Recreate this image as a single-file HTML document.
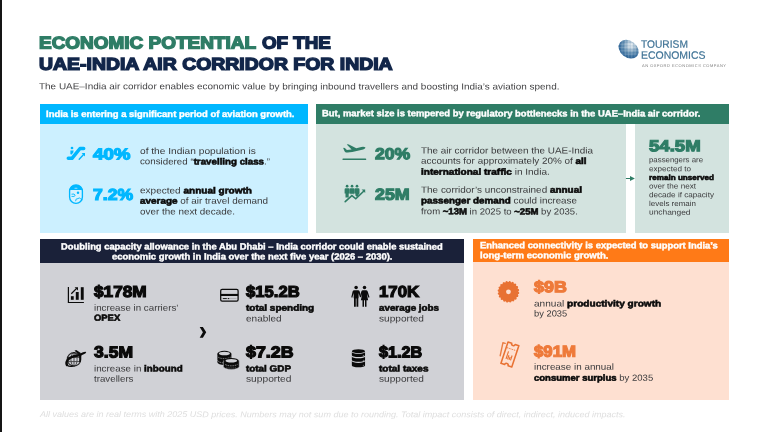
<!DOCTYPE html><html><head><meta charset="utf-8"><title>Economic potential of the UAE-India air corridor</title><style>

html,body{margin:0;padding:0}
body{width:768px;height:432px;overflow:hidden;background:#fff;position:relative;font-family:"Liberation Sans", sans-serif}
.r{position:absolute}
.t{position:absolute;white-space:nowrap;line-height:1;transform-origin:0 0;font-family:"Liberation Sans", sans-serif;text-rendering:geometricPrecision}
.t b{font-weight:700;color:#0a0a0a;-webkit-text-stroke:0.55px #0a0a0a}
svg{position:absolute;overflow:visible}
#w{position:absolute;left:0;top:0;width:768px;height:432px;background:#fff;filter:blur(0.6px)}

</style></head><body><div id="w">
<div class="r" style="left:0px;top:0px;width:1.70px;height:432.00px;background:#151515"></div>
<div class="r" style="left:40.3px;top:103.5px;width:267.30px;height:20.10px;background:#00b7ff"></div>
<div class="r" style="left:40.3px;top:123.6px;width:267.30px;height:109.40px;background:#ccf0ff"></div>
<div class="r" style="left:316px;top:103.5px;width:413.20px;height:20.10px;background:#2f7d66"></div>
<div class="r" style="left:316px;top:123.6px;width:310.00px;height:109.40px;background:#d3e3df"></div>
<div class="r" style="left:634.8px;top:123.6px;width:94.40px;height:109.40px;background:#d3e3df"></div>
<div class="r" style="left:40.4px;top:239.0px;width:423.40px;height:24.00px;background:#1a2139"></div>
<div class="r" style="left:40.4px;top:263.0px;width:423.40px;height:137.00px;background:#d0d1d6"></div>
<div class="r" style="left:473.2px;top:239.0px;width:255.80px;height:22.70px;background:#ff7a17"></div>
<div class="r" style="left:473.2px;top:261.7px;width:255.80px;height:138.30px;background:#fee0d1"></div>
<svg width="768" height="432" viewBox="0 0 768 432" style="left:0;top:0">
<defs>
<radialGradient id="gl" gradientUnits="userSpaceOnUse" cx="-0.6" cy="-4.6" r="15" fx="-0.6" fy="-4.6">
<stop offset="0" stop-color="#eef3f6"/><stop offset="0.22" stop-color="#c3d4e0"/><stop offset="0.5" stop-color="#6d97b7"/><stop offset="0.8" stop-color="#33699a"/><stop offset="1" stop-color="#2a6094"/>
</radialGradient>
<clipPath id="glc"><ellipse cx="0" cy="0" rx="10.9" ry="8.3" transform="rotate(38)"/></clipPath>
</defs>

<!-- logo globe -->
<g transform="translate(628.6,49.2)">
<ellipse cx="0" cy="0" rx="10.9" ry="8.3" transform="rotate(38)" fill="url(#gl)"/>
<g clip-path="url(#glc)" fill="none">
<g stroke="#2a6094" stroke-width="0.5" opacity="0.35">
<path d="M-12,-6.2Q0,-7.4 12,-6.2M-12,-3.1Q0,-3.9 12,-3.1M-12,0H12M-12,3.1Q0,3.9 12,3.1M-12,6.2Q0,7.4 12,6.2"/>
<path d="M-7.8,-10Q-9.2,0 -7.8,10M-4.7,-10Q-5.6,0 -4.7,10M-1.6,-10Q-1.9,0 -1.6,10M1.6,-10Q1.9,0 1.6,10M4.7,-10Q5.6,0 4.7,10M7.8,-10Q9.2,0 7.8,10"/>
</g>
<g stroke="#dfe9f0" stroke-width="0.35" opacity="0.5">
<path d="M-12,-4.7Q0,-5.7 12,-4.7M-12,-1.55Q0,-1.9 12,-1.55M-12,1.55Q0,1.9 12,1.55M-12,4.7Q0,5.7 12,4.7"/>
<path d="M-6.2,-10Q-7.4,0 -6.2,10M-3.1,-10Q-3.7,0 -3.1,10M0,-10V10M3.1,-10Q3.7,0 3.1,10M6.2,-10Q7.4,0 6.2,10"/>
</g>
</g>
</g>

<!-- 1 escalator (blue) -->
<g fill="none" stroke="#00b7ff" stroke-linecap="round" stroke-linejoin="round">
<path d="M68.3,158.3H72L80,148.5H83.7" stroke-width="3.5"/>
<path d="M79.2,159.2L84.3,153.7" stroke-width="1.4"/>
</g>
<g fill="#00b7ff">
<path d="M81.6,153.1H85V156.6Z"/>
<circle cx="72" cy="148" r="1.35"/>
<path d="M70.4,150.4H73.6L73.2,152.8L71.3,154.8L70.4,154Z"/>
</g>

<!-- 2 plane window (blue) -->
<g fill="none" stroke="#00b7ff">
<rect x="69.6" y="184.8" width="12.8" height="18.5" rx="6.3" ry="6.3" stroke-width="1.35" fill="#d6f2fe"/>
<path d="M71.5,194.2Q74.8,193.2 75.2,195.5Q74.5,197 71.5,196.4" stroke-width="0.9"/>
<path d="M75.6,201.2Q75.4,198.3 78,198.6Q79.3,197.2 80.6,198.7Q82.2,198.8 81.8,200.4" stroke-width="0.9"/>
</g>
<g fill="#00b7ff">
<path d="M69.7,189.6V191.1Q69.7,184.9 75.95,184.9Q82.2,184.9 82.2,191.1V189.6Z"/>
<path d="M69.7,189.9H82.2V191.1Q82.2,184.9 75.95,184.9Q69.7,184.9 69.7,191.1Z"/>
<circle cx="78" cy="192.8" r="1.25"/>
</g>
<rect x="74.4" y="187.8" width="3.1" height="0.9" rx="0.4" fill="#9ddcfb"/>

<!-- 3 plane take-off (green) -->
<g fill="#2f7d66">
<path d="M343.2,147.9Q344.3,147.5 345.1,148.2L346.9,150.1L351.6,149.6L346.8,144.6Q347.6,143.9 348.9,144.4L356.3,148.2L361.3,146.9Q364.3,146.3 365.5,147.6Q365.6,148.8 363.2,149.4L352.3,152.1Q348,152.9 345.9,152.4Q344.7,152 344.2,150.6Z"/>
<rect x="342.5" y="158.55" width="23.7" height="1.35" rx="0.5"/>
</g>

<!-- 4 people + growth arrow (green) -->
<g fill="#2f7d66">
<circle cx="347.1" cy="186.2" r="1.35"/><circle cx="352.05" cy="186.2" r="1.35"/><circle cx="357" cy="186.2" r="1.35"/>
<path d="M345.6,188.2H348.6Q349.6,188.2 349.6,189.4V193.6H348.7V197.6H345.5V193.6H344.6V189.4Q344.6,188.2 345.6,188.2Z"/>
<path d="M350.55,188.2H353.55Q354.55,188.2 354.55,189.4V193.6H353.6V194.6L352,193.4L350.5,194.6V193.6H349.55V189.4Q349.55,188.2 350.55,188.2Z"/>
<path d="M355.5,188.2H358.5Q359.5,188.2 359.5,189.4V193.4L358.6,194.4V195.6L357,197L355.4,195.6V193.6H354.5V189.4Q354.5,188.2 355.5,188.2Z"/>
<path d="M361.6,189.5H365.2V193.1Z"/>
</g>
<path d="M345.2,201.6L351.9,195.6L355.8,198.8L363.4,191.5" fill="none" stroke="#2f7d66" stroke-width="1.6" stroke-linecap="round" stroke-linejoin="miter"/>

<!-- small arrow between green boxes -->
<g fill="#2f7d66">
<rect x="625.9" y="178" width="5" height="1"/>
<path d="M630,176.1L634.9,178.5L630,180.9Z"/>
</g>

<!-- 5 bar chart (black) -->
<g fill="#0b0b0b">
<path d="M67.8,287H69V301.9H83.9V303.1H67.8Z"/>
<rect x="70.9" y="296.2" width="2.8" height="3.6"/>
<rect x="75.8" y="292" width="2.9" height="7.8"/>
<rect x="80.8" y="287.2" width="2.9" height="12.6"/>
<path d="M74.6,287.2H78V290.6Z"/>
</g>
<path d="M71.3,293.7L76.6,288.4" stroke="#0b0b0b" stroke-width="1.25" fill="none"/>

<!-- 6 globe + plane (black) -->
<g fill="none" stroke="#0b0b0b">
<circle cx="74" cy="359.4" r="6.7" stroke-width="1.25" opacity="0.85"/>
<g stroke-width="0.95" opacity="0.7">
<ellipse cx="74" cy="359.4" rx="3.1" ry="6.7"/>
<path d="M67.6,357.4H80.4M67.6,361.6H80.4M74,352.7V366.1"/>
</g>
<path d="M77.3,355.5Q70.2,356.6 67.5,360.2Q65.7,362.9 67,365" stroke-width="2.4" stroke-linecap="round"/>
<path d="M67,365.2Q69.4,367 72.8,366.2" stroke-width="1.3" stroke-linecap="round"/>
</g>
<g fill="#0b0b0b">
<path d="M76.8,354.9L83,352.2Q85.7,351.3 86.2,352.1Q86.3,353.3 83.8,354.3L77.6,357Z"/>
<path d="M74.5,350.7L76.2,350L81.2,353.3L79,354.5Z"/>
<path d="M79.2,354.7L81.6,354.1L80.8,361.6L79.2,361.9Z"/>
</g>

<!-- chevron -->
<path d="M199.7,326.9H202.9L206.2,332.3L202.9,337.8H199.7L202.9,332.3Z" fill="#0b0b0b"/>

<!-- 7 card (black) -->
<g>
<rect x="220.7" y="289.3" width="17.4" height="11.8" rx="1.4" fill="none" stroke="#0b0b0b" stroke-width="1.25"/>
<rect x="220.7" y="293.9" width="17.4" height="2.1" fill="#0b0b0b"/>
<rect x="222.8" y="298.15" width="4" height="0.9" fill="#0b0b0b"/>
<rect x="227.7" y="298.1" width="1.6" height="1" fill="#0b0b0b"/>
<rect x="230" y="298.35" width="6.5" height="0.5" fill="#0b0b0b" opacity="0.35"/>
</g>

<!-- 8 coins (black) -->
<g>
<path d="M217.4,353.7V362.3A7,2.7 0 0 0 231.4,362.3V353.7Z" fill="#0b0b0b"/>
<ellipse cx="224.4" cy="353.7" rx="7" ry="2.9" fill="#0b0b0b"/>
<ellipse cx="224.4" cy="353.6" rx="5.5" ry="1.75" fill="#d0d1d6"/>
<path d="M218.2,357.2A7,2.7 0 0 0 230.6,357.2" stroke="#d0d1d6" stroke-width="0.75" stroke-dasharray="0.9 0.8" fill="none" opacity="1"/>
<path d="M217.6,360.3A7,2.7 0 0 0 224,362.9" stroke="#d0d1d6" stroke-width="0.75" stroke-dasharray="0.9 0.8" fill="none" opacity="1"/>
<path d="M223.4,360.8V366.4A7.1,2.7 0 0 0 239.2,366.4V360.8Z" fill="#0b0b0b" stroke="#d0d1d6" stroke-width="0.5"/>
<ellipse cx="231.3" cy="360.8" rx="7.4" ry="2.9" fill="#0b0b0b"/>
<ellipse cx="231.3" cy="360.7" rx="5.8" ry="1.7" fill="#d0d1d6"/>
<path d="M225,364.3A7,2.7 0 0 0 237.6,364.3" stroke="#d0d1d6" stroke-width="0.75" stroke-dasharray="0.9 0.8" fill="none" opacity="1"/>
<path d="M226.3,367.2A7,2.7 0 0 0 236.3,367.2" stroke="#d0d1d6" stroke-width="0.5" stroke-dasharray="0.9 0.8" fill="none" opacity="0.7"/>
</g>

<!-- 9 man + woman (black) -->
<g fill="#0b0b0b">
<circle cx="356.1" cy="287.6" r="1.75"/>
<path d="M354.4,290.2H357.9Q359.3,290.2 359.7,291.6L361,296.8L360,297.3L358.6,293V298.2H358.3V306.7H356.5V298.6H355.8V306.7H354V298.2H353.7V293L352.3,297.7L351.3,297.2L352.6,291.6Q353,290.2 354.4,290.2Z"/>
<circle cx="364.5" cy="287.6" r="1.75"/>
<path d="M363,290.2H366Q367.2,290.2 367.7,291.6L369.5,297.2L368.5,297.7L366.8,293.6L368.1,300.2H366.5V306.7H365V300.2H364V306.7H362.5V300.2H360.9L362.2,293.6L360.9,297.3L359.9,296.8L361.3,291.6Q361.8,290.2 363,290.2Z"/>
</g>

<!-- 10 database (black) -->
<g fill="#0b0b0b">
<ellipse cx="358.45" cy="351.2" rx="6.6" ry="1.95"/>
<path d="M351.85,352.1A6.6,1.8 0 0 0 365.05,352.1V355.3A6.6,1.8 0 0 1 351.85,355.3Z"/>
<path d="M351.85,356.4A6.6,1.8 0 0 0 365.05,356.4V360A6.6,1.8 0 0 1 351.85,360Z"/>
<path d="M351.85,361.1A6.6,1.8 0 0 0 365.05,361.1V365.4A6.6,1.8 0 0 1 351.85,365.4Z"/>
</g>
<g fill="#a5a6ab"><circle cx="363.3" cy="355.4" r="0.5"/><circle cx="363.3" cy="360.3" r="0.5"/><circle cx="363.3" cy="365.2" r="0.5"/></g>

<!-- 11 gear (orange) : generated -->
<path d="M518.35,291.80L519.22,292.55L519.07,293.76L518.04,294.26L517.87,294.86L518.47,295.84L517.95,296.94L516.81,297.10L516.46,297.62L516.73,298.74L515.89,299.63L514.76,299.43L514.27,299.81L514.18,300.95L513.11,301.54L512.09,301.00L511.51,301.22L511.07,302.28L509.87,302.51L509.07,301.68L508.45,301.70L507.70,302.57L506.49,302.42L505.99,301.39L505.39,301.22L504.41,301.82L503.31,301.30L503.15,300.16L502.63,299.81L501.51,300.08L500.62,299.24L500.82,298.11L500.44,297.62L499.30,297.53L498.71,296.46L499.25,295.44L499.03,294.86L497.97,294.42L497.74,293.22L498.57,292.42L498.55,291.80L497.68,291.05L497.83,289.84L498.86,289.34L499.03,288.74L498.43,287.76L498.95,286.66L500.09,286.50L500.44,285.98L500.17,284.86L501.01,283.97L502.14,284.17L502.63,283.79L502.72,282.65L503.79,282.06L504.81,282.60L505.39,282.38L505.83,281.32L507.03,281.09L507.83,281.92L508.45,281.90L509.20,281.03L510.41,281.18L510.91,282.21L511.51,282.38L512.49,281.78L513.59,282.30L513.75,283.44L514.27,283.79L515.39,283.52L516.28,284.36L516.08,285.49L516.46,285.98L517.60,286.07L518.19,287.14L517.65,288.16L517.87,288.74L518.93,289.18L519.16,290.38L518.33,291.18ZM506.05,291.80a2.4,2.4 0 1 0 4.8,0a2.4,2.4 0 1 0 -4.8,0Z" fill="#e87233" fill-rule="evenodd"/>

<!-- 12 ticket (orange) -->
<path d="M505.2,343.4L502.9,342.8L500.2,355.7" fill="none" stroke="#e87233" stroke-width="1.4" stroke-linejoin="round" stroke-linecap="round" opacity="0.9"/>
<g transform="translate(509.9,354.5) rotate(18.4)" fill="none" stroke="#e87233" stroke-linejoin="round">
<path d="M-5.7,-11.2H-1.8A1.8,1.8 0 0 0 1.8,-11.2H5.7V11.2H1.8A1.8,1.8 0 0 0 -1.8,11.2H-5.7Z" stroke-width="1.55"/>
<path d="M-5,-5.6H5" stroke-width="0.8" stroke-dasharray="1.5 0.9"/>
<path d="M-2.3,-2.6V5.4M-0.7,1V5.4M0.9,2.2V5.4M2.4,0.2V5.4" stroke-width="1.15"/>
</g>
</svg>

<span class="t" id="t0" style="left:39.00px;top:34px;font-size:17.0px;color:#2f7d66;font-weight:700;-webkit-text-stroke:1.4px #2f7d66;transform:matrix(1.1153,0.0005,0,1,0,0.467)">ECONOMIC POTENTIAL</span>
<span class="t" id="t1" style="left:261.60px;top:34px;font-size:17.0px;color:#12264a;font-weight:700;-webkit-text-stroke:1.4px #12264a;transform:matrix(1.1052,0.0005,0,1,0,0.500)">OF THE</span>
<span class="t" id="t2" style="left:38.90px;top:55px;font-size:17.0px;color:#12264a;font-weight:700;-webkit-text-stroke:1.4px #12264a;transform:matrix(1.1427,0.0005,0,1,0,0.692)">UAE-INDIA AIR CORRIDOR FOR INDIA</span>
<span class="t" id="t3" style="left:39.10px;top:82px;font-size:8.9px;color:#444446;transform:matrix(1.1202,0.0005,0,1,0,0.279)">The UAE–India air corridor enables economic value by bringing inbound travellers and boosting India’s aviation spend.</span>
<span class="t" id="t4" style="left:46.00px;top:110px;font-size:9.0px;color:#ffffff;font-weight:700;-webkit-text-stroke:0.4px #ffffff;transform:matrix(1.0506,0.0005,0,1,0,-0.033)">India is entering a significant period of aviation growth.</span>
<span class="t" id="t5" style="left:92.50px;top:147px;font-size:16.0px;color:#00b7ff;font-weight:700;-webkit-text-stroke:1.2px #00b7ff;transform:matrix(1.1707,0.0005,0,1,0,0.392)">40%</span>
<span class="t" id="t6" style="left:92.50px;top:187px;font-size:16.0px;color:#00b7ff;font-weight:700;-webkit-text-stroke:1.2px #00b7ff;transform:matrix(1.0968,0.0005,0,1,0,0.910)">7.2%</span>
<span class="t" id="t7" style="left:140.00px;top:147px;font-size:8.9px;color:#3a3a3c;transform:matrix(1.1448,0.0005,0,1,0,0.055)">of the Indian population is</span>
<span class="t" id="t8" style="left:140.00px;top:157px;font-size:8.9px;color:#3a3a3c;transform:matrix(1.0979,0.0005,0,1,0,0.366)">considered “<b>travelling class</b>.”</span>
<span class="t" id="t9" style="left:140.00px;top:186px;font-size:8.9px;color:#3a3a3c;transform:matrix(1.1295,0.0005,0,1,0,0.371)">expected <b>annual growth</b></span>
<span class="t" id="t10" style="left:140.00px;top:196px;font-size:8.9px;color:#3a3a3c;transform:matrix(1.1182,0.0005,0,1,0,0.724)"><b>average</b> of air travel demand</span>
<span class="t" id="t11" style="left:140.00px;top:207px;font-size:8.9px;color:#3a3a3c;transform:matrix(1.1129,0.0005,0,1,0,0.399)">over the next decade.</span>
<span class="t" id="t12" style="left:322.20px;top:109px;font-size:9.0px;color:#ffffff;font-weight:700;-webkit-text-stroke:0.4px #ffffff;transform:matrix(1.0491,0.0005,0,1,0,0.304)">But, market size is tempered by regulatory bottlenecks in the UAE–India air corridor.</span>
<span class="t" id="t13" style="left:375.00px;top:147px;font-size:16.0px;color:#2f7d66;font-weight:700;-webkit-text-stroke:1.2px #2f7d66;transform:matrix(1.1020,0.0005,0,1,0,0.258)">20%</span>
<span class="t" id="t14" style="left:375.00px;top:187px;font-size:16.0px;color:#2f7d66;font-weight:700;-webkit-text-stroke:1.2px #2f7d66;transform:matrix(1.1149,0.0005,0,1,0,0.792)">25M</span>
<span class="t" id="t15" style="left:421.00px;top:146px;font-size:8.9px;color:#3a3a3c;transform:matrix(1.1175,0.0005,0,1,0,0.470)">The air corridor between the UAE-India</span>
<span class="t" id="t16" style="left:421.00px;top:156px;font-size:8.9px;color:#3a3a3c;transform:matrix(1.1152,0.0005,0,1,0,0.810)">accounts for approximately 20% of <b>all</b></span>
<span class="t" id="t17" style="left:421.00px;top:167px;font-size:8.9px;color:#3a3a3c;transform:matrix(1.1303,0.0005,0,1,0,0.674)"><b>international traffic</b> in India.</span>
<span class="t" id="t18" style="left:421.00px;top:185px;font-size:8.9px;color:#3a3a3c;transform:matrix(1.1202,0.0005,0,1,0,0.716)">The corridor’s unconstrained <b>annual</b></span>
<span class="t" id="t19" style="left:421.00px;top:196px;font-size:8.9px;color:#3a3a3c;transform:matrix(1.1096,0.0005,0,1,0,0.474)"><b>passenger demand</b> could increase</span>
<span class="t" id="t20" style="left:421.00px;top:207px;font-size:8.9px;color:#3a3a3c;transform:matrix(1.0772,0.0005,0,1,0,0.359)">from <b>~13M</b> in 2025 to <b>~25M</b> by 2035.</span>
<span class="t" id="t21" style="left:649.00px;top:139px;font-size:16.0px;color:#2f7d66;font-weight:700;-webkit-text-stroke:1.2px #2f7d66;transform:matrix(1.1604,0.0005,0,1,0,0.255)">54.5M</span>
<span class="t" id="t22" style="left:649.00px;top:156px;font-size:7.4px;color:#3a3a3c;transform:matrix(1.0598,0.0005,0,1,0,0.293)">passengers are</span>
<span class="t" id="t23" style="left:649.00px;top:165px;font-size:7.4px;color:#3a3a3c;transform:matrix(1.0989,0.0005,0,1,0,0.286)">expected to</span>
<span class="t" id="t24" style="left:649.00px;top:174px;font-size:7.4px;color:#3a3a3c;transform:matrix(1.0988,0.0005,0,1,0,0.013)"><b>remain unserved</b></span>
<span class="t" id="t25" style="left:649.00px;top:182px;font-size:7.4px;color:#3a3a3c;transform:matrix(1.0998,0.0005,0,1,0,0.432)">over the next</span>
<span class="t" id="t26" style="left:649.00px;top:191px;font-size:7.4px;color:#3a3a3c;transform:matrix(1.0985,0.0005,0,1,0,0.291)">decade if capacity</span>
<span class="t" id="t27" style="left:649.00px;top:199px;font-size:7.4px;color:#3a3a3c;transform:matrix(1.0793,0.0005,0,1,0,0.885)">levels remain</span>
<span class="t" id="t28" style="left:649.00px;top:208px;font-size:7.4px;color:#3a3a3c;transform:matrix(1.1346,0.0005,0,1,0,0.619)">unchanged</span>
<span class="t" id="t29" style="left:61.30px;top:242px;font-size:9.0px;color:#ffffff;font-weight:700;-webkit-text-stroke:0.4px #ffffff;transform:matrix(1.0408,0.0005,0,1,0,0.449)">Doubling capacity allowance in the Abu Dhabi – India corridor could enable sustained</span>
<span class="t" id="t30" style="left:112.00px;top:252px;font-size:9.0px;color:#ffffff;font-weight:700;-webkit-text-stroke:0.4px #ffffff;transform:matrix(1.0501,0.0005,0,1,0,0.473)">economic growth in India over the next five year (2026 – 2030).</span>
<span class="t" id="t31" style="left:94.30px;top:285px;font-size:16.0px;color:#0a0a0a;font-weight:700;-webkit-text-stroke:1.2px #0a0a0a;transform:matrix(1.0772,0.0005,0,1,0,0.020)">$178M</span>
<span class="t" id="t32" style="left:94.30px;top:303px;font-size:8.9px;color:#3a3a3c;transform:matrix(1.0981,0.0005,0,1,0,0.683)">increase in carriers’</span>
<span class="t" id="t33" style="left:94.30px;top:313px;font-size:8.9px;color:#3a3a3c;transform:matrix(1.0619,0.0005,0,1,0,0.696)"><b>OPEX</b></span>
<span class="t" id="t34" style="left:94.30px;top:345px;font-size:16.0px;color:#0a0a0a;font-weight:700;-webkit-text-stroke:1.2px #0a0a0a;transform:matrix(1.0962,0.0005,0,1,0,0.373)">3.5M</span>
<span class="t" id="t35" style="left:94.30px;top:364px;font-size:8.9px;color:#3a3a3c;transform:matrix(1.1034,0.0005,0,1,0,0.401)">increase in <b>inbound</b></span>
<span class="t" id="t36" style="left:94.30px;top:374px;font-size:8.9px;color:#3a3a3c;transform:matrix(1.0967,0.0005,0,1,0,0.693)">travellers</span>
<span class="t" id="t37" style="left:246.30px;top:285px;font-size:16.0px;color:#0a0a0a;font-weight:700;-webkit-text-stroke:1.2px #0a0a0a;transform:matrix(1.0408,0.0005,0,1,0,0.020)">$15.2B</span>
<span class="t" id="t38" style="left:246.30px;top:303px;font-size:8.9px;color:#3a3a3c;transform:matrix(1.1244,0.0005,0,1,0,0.687)"><b>total spending</b></span>
<span class="t" id="t39" style="left:246.30px;top:314px;font-size:8.9px;color:#3a3a3c;transform:matrix(1.1300,0.0005,0,1,0,0.413)">enabled</span>
<span class="t" id="t40" style="left:246.30px;top:345px;font-size:16.0px;color:#0a0a0a;font-weight:700;-webkit-text-stroke:1.2px #0a0a0a;transform:matrix(1.1123,0.0005,0,1,0,0.371)">$7.2B</span>
<span class="t" id="t41" style="left:246.30px;top:364px;font-size:8.9px;color:#3a3a3c;transform:matrix(1.1128,0.0005,0,1,0,0.411)"><b>total GDP</b></span>
<span class="t" id="t42" style="left:246.30px;top:374px;font-size:8.9px;color:#3a3a3c;transform:matrix(1.1524,0.0005,0,1,0,0.692)">supported</span>
<span class="t" id="t43" style="left:379.30px;top:285px;font-size:16.0px;color:#0a0a0a;font-weight:700;-webkit-text-stroke:1.2px #0a0a0a;transform:matrix(1.0510,0.0005,0,1,0,0.023)">170K</span>
<span class="t" id="t44" style="left:379.30px;top:303px;font-size:8.9px;color:#3a3a3c;transform:matrix(1.1057,0.0005,0,1,0,0.689)"><b>average jobs</b></span>
<span class="t" id="t45" style="left:379.30px;top:314px;font-size:8.9px;color:#3a3a3c;transform:matrix(1.1397,0.0005,0,1,0,0.411)">supported</span>
<span class="t" id="t46" style="left:379.30px;top:345px;font-size:16.0px;color:#0a0a0a;font-weight:700;-webkit-text-stroke:1.2px #0a0a0a;transform:matrix(1.0116,0.0005,0,1,0,0.371)">$1.2B</span>
<span class="t" id="t47" style="left:379.30px;top:364px;font-size:8.9px;color:#3a3a3c;transform:matrix(1.1274,0.0005,0,1,0,0.410)"><b>total taxes</b></span>
<span class="t" id="t48" style="left:379.30px;top:374px;font-size:8.9px;color:#3a3a3c;transform:matrix(1.1397,0.0005,0,1,0,0.692)">supported</span>
<span class="t" id="t49" style="left:479.50px;top:241px;font-size:9.0px;color:#ffffff;font-weight:700;-webkit-text-stroke:0.4px #ffffff;transform:matrix(1.0466,0.0005,0,1,0,0.293)">Enhanced connectivity is expected to support India’s</span>
<span class="t" id="t50" style="left:479.50px;top:251px;font-size:9.0px;color:#ffffff;font-weight:700;-webkit-text-stroke:0.4px #ffffff;transform:matrix(1.0618,0.0005,0,1,0,0.320)">long-term economic growth.</span>
<span class="t" id="t51" style="left:533.80px;top:280px;font-size:16.0px;color:#ee7a3a;font-weight:700;-webkit-text-stroke:1.2px #ee7a3a;transform:matrix(1.1240,0.0005,0,1,0,0.312)">$9B</span>
<span class="t" id="t52" style="left:533.80px;top:299px;font-size:8.9px;color:#3a3a3c;transform:matrix(1.1360,0.0005,0,1,0,0.393)">annual <b>productivity growth</b></span>
<span class="t" id="t53" style="left:533.80px;top:309px;font-size:8.9px;color:#3a3a3c;transform:matrix(1.0508,0.0005,0,1,0,0.413)">by 2035</span>
<span class="t" id="t54" style="left:533.80px;top:344px;font-size:16.0px;color:#ee7a3a;font-weight:700;-webkit-text-stroke:1.2px #ee7a3a;transform:matrix(1.0492,0.0005,0,1,0,0.790)">$91M</span>
<span class="t" id="t55" style="left:533.80px;top:362px;font-size:8.9px;color:#3a3a3c;transform:matrix(1.1104,0.0005,0,1,0,0.829)">increase in annual</span>
<span class="t" id="t56" style="left:533.80px;top:373px;font-size:8.9px;color:#3a3a3c;transform:matrix(1.0739,0.0005,0,1,0,0.820)"><b>consumer surplus</b> by 2035</span>
<span class="t" id="t57" style="left:39.50px;top:410px;font-size:8.3px;color:#dedede;font-style:italic;transform:matrix(1.0858,0.0005,0,1,0,0.051)">All values are in real terms with 2025 USD prices. Numbers may not sum due to rounding. Total impact consists of direct, indirect, induced impacts.</span>
<span class="t" id="t58" style="left:640.90px;top:39px;font-size:10.6px;color:#3f7396;-webkit-text-stroke:0.2px #3f7396;transform:matrix(0.9639,0.0005,0,1,0,0.846)">TOURISM</span>
<span class="t" id="t59" style="left:640.90px;top:50px;font-size:10.6px;color:#3f7396;-webkit-text-stroke:0.2px #3f7396;transform:matrix(0.9871,0.0005,0,1,0,0.797)">ECONOMICS</span>
<span class="t" id="t60" style="left:641.60px;top:64px;font-size:4.0px;color:#7d7d7d;letter-spacing:0.5px;transform:matrix(1.0046,0.0005,0,1,0,0.010)">AN OXFORD ECONOMICS COMPANY</span>
</div></body></html>
